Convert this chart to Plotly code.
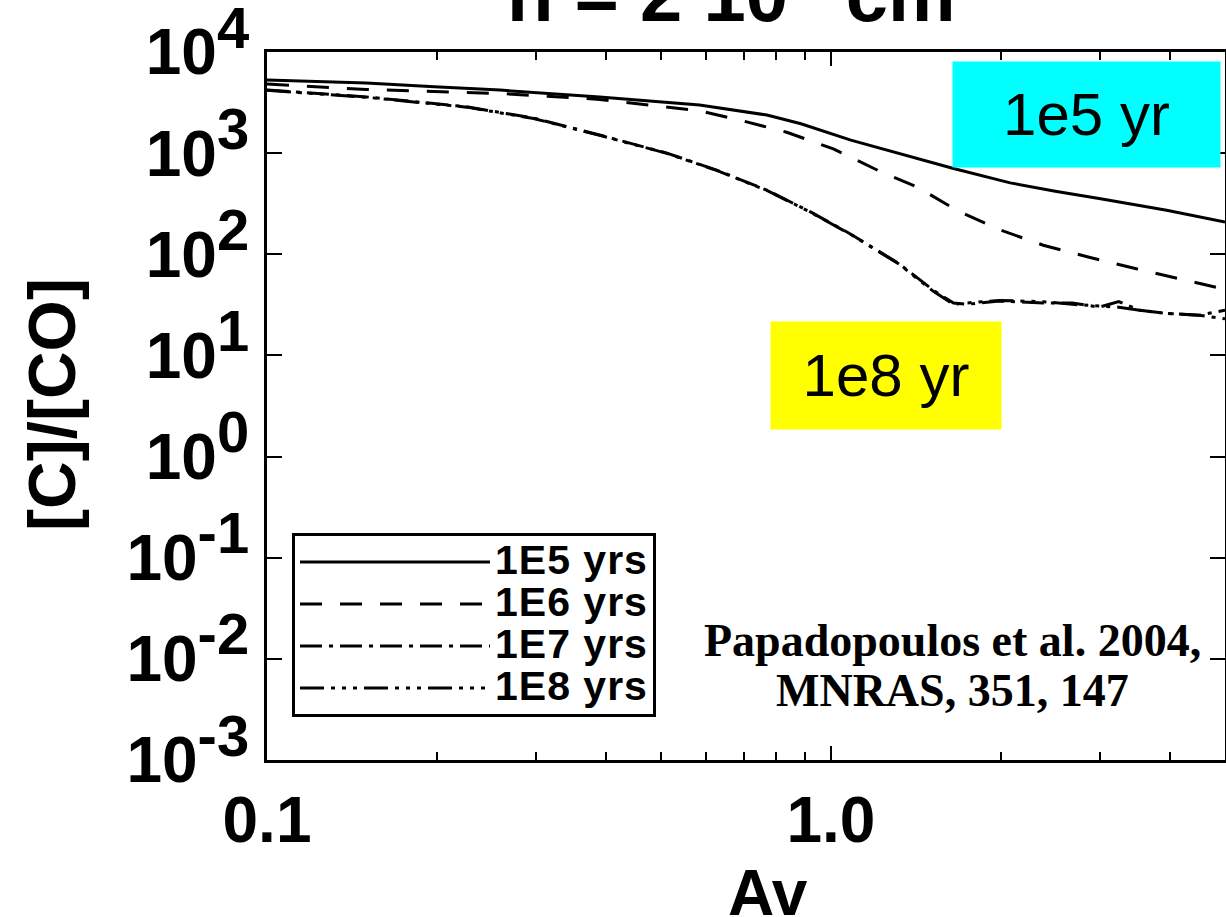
import plotly.graph_objects as go

# ---------------- data ----------------
av_1e5 = [0.1, 0.15, 0.198, 0.259, 0.389, 0.512, 0.585, 0.77, 0.885, 1.085, 1.32, 1.65, 2.08, 2.5, 2.99, 3.94, 5.0]
c_1e5 = [5290, 4950, 4540, 4200, 3600, 3200, 2985, 2380, 1950, 1345, 990, 706, 508, 420, 356, 273, 209]

av_1e6 = [0.1, 0.15, 0.259, 0.389, 0.585, 0.7, 0.835, 1.01, 1.23, 1.42, 1.68, 1.99, 2.38, 2.86, 3.48, 4.14, 5.0]
c_1e6 = [4820, 4265, 3890, 3400, 2620, 2075, 1610, 1100, 649, 465, 268, 175, 123, 94, 72, 57.5, 45]

av_1e7 = [0.1, 0.15, 0.226, 0.297, 0.389, 0.512, 0.627, 0.77, 0.922, 1.085, 1.32, 1.52, 1.65, 1.74, 1.99, 2.38, 2.68, 2.99, 3.24, 3.53, 3.94, 4.5, 5.0]
c_1e7 = [4210, 3600, 2870, 2220, 1510, 1000, 680, 430, 261, 158, 81, 44, 33, 32, 34.5, 33, 33, 30, 34, 28, 26, 25, 28]

av_1e8 = [0.1, 0.15, 0.226, 0.297, 0.389, 0.512, 0.627, 0.77, 0.922, 1.085, 1.32, 1.52, 1.65, 1.74, 1.99, 2.38, 2.68, 2.99, 3.24, 3.53, 3.94, 4.5, 5.0]
c_1e8 = [4180, 3570, 2850, 2200, 1500, 995, 675, 428, 259, 157, 80, 43, 32, 33, 35, 34, 32, 31, 30, 28, 26, 25, 23]

series_names = ["1E5 yrs", "1E6 yrs", "1E7 yrs", "1E8 yrs"]
y_tickvals = [1e-3, 1e-2, 1e-1, 1e0, 1e1, 1e2, 1e3, 1e4]
y_exps = ["-3", "-2", "-1", "0", "1", "2", "3", "4"]
x_tickvals = [0.1, 1.0]
x_ticktext = ["0.1", "1.0"]

# ---------------- figure ----------------
W, H = 1226, 917
L, R, T, B = 267, 1, 52, 157

dashes = ["solid", "22px,18px", "22px,7px,4px,7px", "24px,7px,4px,7px,4px,7px,4px,7px"]
xs = [av_1e5, av_1e6, av_1e7, av_1e8]
ys = [c_1e5, c_1e6, c_1e7, c_1e8]

fig = go.Figure()
for name, x, y, d in zip(series_names, xs, ys, dashes):
    fig.add_trace(go.Scatter(
        x=x, y=y, mode="lines",
        name=f'<span style="font-size:41px;letter-spacing:1px">{name}</span>',
        line=dict(color="black", width=3, dash=d)))

FONT = "Liberation Sans, Arial, Helvetica, sans-serif"
SERIF = "Liberation Serif, Times New Roman, serif"

y_ticktext = [f'<b>10<sup><span style="font-size:58px">{e}</span></sup></b>' for e in y_exps]

fig.update_layout(
    width=W, height=H,
    margin=dict(l=L, r=R, t=T, b=B, autoexpand=False),
    paper_bgcolor="white", plot_bgcolor="white",
    font=dict(family=FONT, color="black"),
    showlegend=True,
    legend=dict(
        x=(292 - L) / (W - L - R), y=(760 - 533) / (H - T - B),
        xanchor="left", yanchor="top",
        bgcolor="white", bordercolor="black", borderwidth=3,
        font=dict(family=FONT, size=30, color="black", weight="bold"),
        itemwidth=190, tracegroupgap=0,
    ),
    xaxis=dict(
        type="log", range=[-1, 0.69897], automargin=False,
        showline=True, linecolor="black", linewidth=3, mirror="allticks",
        showgrid=False, zeroline=False,
        ticks="inside", ticklen=14, tickwidth=2, tickcolor="black",
        tickvals=x_tickvals, ticktext=x_ticktext,
        tickfont=dict(family=FONT, size=64, color="black", weight="bold"),
        ticklabelstandoff=2,
        minor=dict(ticks="inside", ticklen=8, tickwidth=2, tickcolor="black", dtick="D1", showgrid=False),
    ),
    yaxis=dict(
        type="log", range=[-3, 4], automargin=False,
        showline=True, linecolor="black", linewidth=3, mirror="allticks",
        showgrid=False, zeroline=False,
        ticks="inside", ticklen=15, tickwidth=2, tickcolor="black",
        tickvals=y_tickvals, ticktext=y_ticktext,
        tickfont=dict(family=FONT, size=64, color="black"),
        ticklabelstandoff=2, ticklabeloverflow="allow",
    ),
)

pw = W - L - R
ph = H - T - B

def px(xp):
    return (xp - L) / pw

def py(yp):
    return (H - B - yp) / ph

annos = [
    dict(text='<b>n = 2 10<sup><span style="font-size:66px">4</span></sup> cm<sup><span style="font-size:66px">-3</span></sup></b>',
         x=px(760), y=py(-17), xref="paper", yref="paper",
         xanchor="center", yanchor="middle", showarrow=False, font=dict(family=FONT, size=76)),
    dict(text="<b>[C]/[CO]</b>", x=px(52), y=py(405), xref="paper", yref="paper", textangle=-90,
         xanchor="center", yanchor="middle", showarrow=False, font=dict(family=FONT, size=66)),
    dict(text="<b>Av</b>", x=px(768), y=py(893), xref="paper", yref="paper",
         xanchor="center", yanchor="middle", showarrow=False, font=dict(family=FONT, size=64)),
    dict(text="1e5 yr", x=px(1086.5), y=py(114.5), xref="paper", yref="paper",
         xanchor="center", yanchor="middle", showarrow=False, bgcolor="#00FFFF",
         width=267, height=105, borderpad=0, font=dict(family=FONT, size=60)),
    dict(text="1e8 yr", x=px(886), y=py(375.5), xref="paper", yref="paper",
         xanchor="center", yanchor="middle", showarrow=False, bgcolor="#FFFF00",
         width=230, height=107, borderpad=0, font=dict(family=FONT, size=60)),
    dict(text="<b>Papadopoulos et al. 2004,</b>", x=px(952), y=py(640), xref="paper", yref="paper",
         xanchor="center", yanchor="middle", showarrow=False, font=dict(family=SERIF, size=46)),
    dict(text="<b>MNRAS, 351, 147</b>", x=px(952), y=py(690), xref="paper", yref="paper",
         xanchor="center", yanchor="middle", showarrow=False, font=dict(family=SERIF, size=46)),
]
fig.update_layout(annotations=annos)

fig.write_html("out.html")
